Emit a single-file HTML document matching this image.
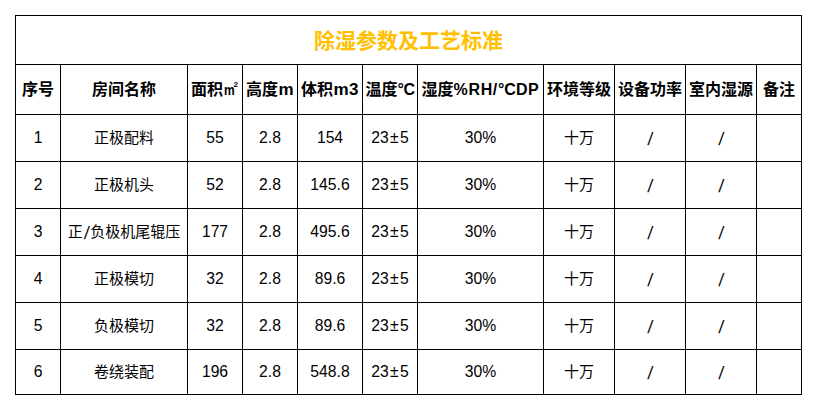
<!DOCTYPE html>
<html lang="zh-CN"><head><meta charset="utf-8"><title>除湿参数及工艺标准</title>
<style>
html,body{margin:0;padding:0;background:#fff}
body{width:817px;height:410px;overflow:hidden;position:relative;font-family:"Liberation Sans","Noto Sans CJK SC",sans-serif;color:#000}
table{position:absolute;left:15px;top:15px;border-collapse:collapse;table-layout:fixed;width:787px;border-spacing:0}
td,th{border:1px solid #000;padding:0;text-align:center;vertical-align:middle;white-space:nowrap;overflow:hidden;line-height:1;font-weight:normal}
.cj{display:inline-block;font-family:"Liberation Sans","Noto Sans CJK SC",sans-serif;line-height:1}
.cj.t{font-size:21px;font-weight:bold}
.cj.h{font-size:16px;font-weight:bold}
.cj.d{font-size:15px;font-weight:normal}
tr.t th{color:#ffc000;height:48px}
tr.h th{font-weight:bold;font-size:16px;height:49px}
tr.r td{font-size:15.7px;height:46px;padding-bottom:0;letter-spacing:0}
.pm{padding:0 1.4px}

tr.r.last td{height:44px}
.l{font-weight:bold;font-size:17px;letter-spacing:0.5px;margin-left:0.5px}
.l2{font-weight:bold;font-size:16px;letter-spacing:0.65px}
.dc{font-size:16px;letter-spacing:-0.4px;margin-left:0}
.l2 .dc{letter-spacing:0}
.sq{font-weight:bold;font-size:16px;display:inline-block;width:15px;text-align:left;margin-left:1px}
.sq .m{display:inline-block;width:10px;font-size:15px;transform:scaleX(.8);transform-origin:0 50%}
.sq sup{font-size:8px;line-height:0;vertical-align:8px;margin-left:-0.5px}
.s{display:inline-block;transform:translateY(1.2px) skewX(-6deg) scale(1.1,1.15)}
.sl{display:inline-block;transform:translateY(1.2px) skewX(-6deg) scale(1.1,1.15);padding:0 1.5px}
</style></head><body>
<table><colgroup><col style="width:45px"><col style="width:127px"><col style="width:55px"><col style="width:55px"><col style="width:65px"><col style="width:55px"><col style="width:126px"><col style="width:71px"><col style="width:71px"><col style="width:71px"><col style="width:45px"></colgroup>
<tr class="t"><th colspan="11"><span class="cj t">除湿参数及工艺标准</span></th></tr>
<tr class="h"><th><span class="cj h">序号</span></th><th><span class="cj h">房间名称</span></th><th><span class="cj h">面积</span><span class="sq"><span class="m">m</span><sup>2</sup></span></th><th><span class="cj h">高度</span><span class="l">m</span></th><th><span class="cj h">体积</span><span class="l">m3</span></th><th><span class="cj h">温度</span><span class="l dc">°C</span></th><th><span class="cj h">湿度</span><span class="l2">%RH/<span class="dc">°C</span>DP</span></th><th><span class="cj h">环境等级</span></th><th><span class="cj h">设备功率</span></th><th><span class="cj h">室内湿源</span></th><th><span class="cj h">备注</span></th></tr>
<tr class="r"><td>1</td><td><span class="cj d">正极配料</span></td><td>55</td><td>2.8</td><td>154</td><td>23<span class="pm">±</span>5</td><td>30%</td><td><span class="cj d">十万</span></td><td><span class="s">/</span></td><td><span class="s">/</span></td><td></td></tr>
<tr class="r"><td>2</td><td><span class="cj d">正极机头</span></td><td>52</td><td>2.8</td><td>145.6</td><td>23<span class="pm">±</span>5</td><td>30%</td><td><span class="cj d">十万</span></td><td><span class="s">/</span></td><td><span class="s">/</span></td><td></td></tr>
<tr class="r"><td>3</td><td><span class="cj d">正</span><span class="sl">/</span><span class="cj d">负极机尾辊压</span></td><td>177</td><td>2.8</td><td>495.6</td><td>23<span class="pm">±</span>5</td><td>30%</td><td><span class="cj d">十万</span></td><td><span class="s">/</span></td><td><span class="s">/</span></td><td></td></tr>
<tr class="r"><td>4</td><td><span class="cj d">正极模切</span></td><td>32</td><td>2.8</td><td>89.6</td><td>23<span class="pm">±</span>5</td><td>30%</td><td><span class="cj d">十万</span></td><td><span class="s">/</span></td><td><span class="s">/</span></td><td></td></tr>
<tr class="r"><td>5</td><td><span class="cj d">负极模切</span></td><td>32</td><td>2.8</td><td>89.6</td><td>23<span class="pm">±</span>5</td><td>30%</td><td><span class="cj d">十万</span></td><td><span class="s">/</span></td><td><span class="s">/</span></td><td></td></tr>
<tr class="r last"><td>6</td><td><span class="cj d">卷绕装配</span></td><td>196</td><td>2.8</td><td>548.8</td><td>23<span class="pm">±</span>5</td><td>30%</td><td><span class="cj d">十万</span></td><td><span class="s">/</span></td><td><span class="s">/</span></td><td></td></tr>
</table>
</body></html>
